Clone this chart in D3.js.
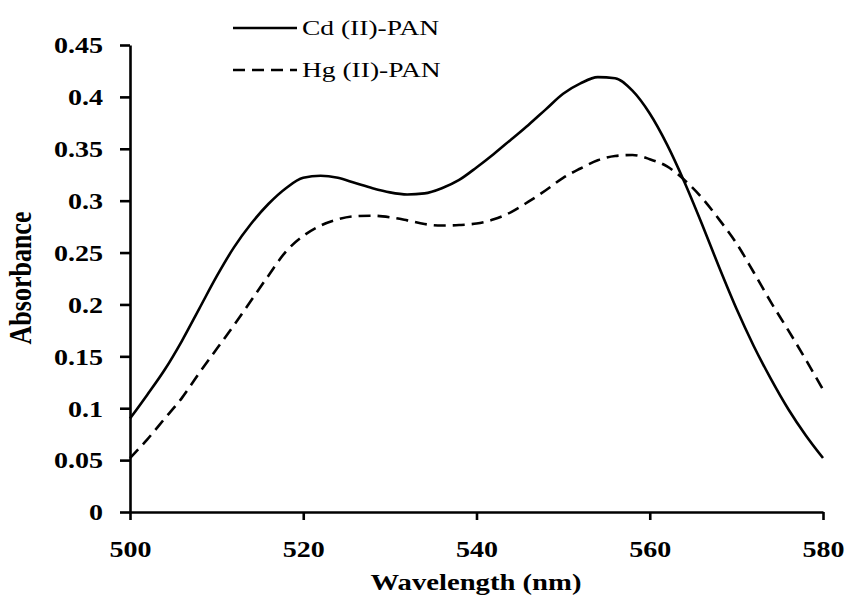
<!DOCTYPE html>
<html>
<head>
<meta charset="utf-8">
<script src="https://cdn.jsdelivr.net/npm/d3@7"></script>
<style>
  body { margin: 0; background: #fff; }
  svg { display: block; }
  text { font-family: "Liberation Serif", "Times New Roman", serif; fill: #000; }
</style>
</head>
<body>
<svg width="850" height="595"></svg>
<script>
// wavelength (nm), every 2 nm
var wavelength = d3.range(500, 581, 2);

var cdPan = [0.090, 0.113, 0.137, 0.165, 0.196, 0.227, 0.255, 0.278, 0.297, 0.312,
             0.322, 0.324, 0.322, 0.317, 0.312, 0.308, 0.306, 0.307, 0.312, 0.320,
             0.332, 0.345, 0.359, 0.373, 0.388, 0.403, 0.413, 0.419, 0.418, 0.406,
             0.384, 0.354, 0.318, 0.278, 0.236, 0.196, 0.160, 0.128, 0.099, 0.074,
             0.052];

var hgPan = [0.052, 0.070, 0.090, 0.110, 0.134, 0.157, 0.180, 0.204, 0.228, 0.251,
             0.266, 0.276, 0.282, 0.285, 0.2855, 0.284, 0.281, 0.2775, 0.276, 0.2765,
             0.278, 0.282, 0.289, 0.299, 0.310, 0.322, 0.331, 0.339, 0.343, 0.344,
             0.340, 0.333, 0.320, 0.303, 0.282, 0.259, 0.231, 0.202, 0.175, 0.147,
             0.118];

var xTicks = [500, 520, 540, 560, 580];
var yTicks = [0, 0.05, 0.1, 0.15, 0.2, 0.25, 0.3, 0.35, 0.4, 0.45];

var series = [
  {name: "Cd (II)-PAN", values: cdPan, dash: null},
  {name: "Hg (II)-PAN", values: hgPan, dash: "12,7"}
];

var svg = d3.select("svg");
var stretch = 1.22; // the original figure is widened horizontally

var x = d3.scaleLinear().domain([500, 580]).range([130, 823]);
var y = d3.scaleLinear().domain([0, 0.45]).range([512, 45]);

// curves
var line = d3.line()
    .x(function(d) { return x(d[0]); })
    .y(function(d) { return y(d[1]); })
    .curve(d3.curveMonotoneX);

svg.append("g")
  .selectAll("path")
  .data(series)
  .enter().append("path")
    .attr("d", function(s) { return line(wavelength.map(function(w, i) { return [w, s.values[i]]; })); })
    .attr("fill", "none")
    .attr("stroke", "#000")
    .attr("stroke-width", 2.6)
    .attr("stroke-dasharray", function(s) { return s.dash; });

// axes
var yAxis = svg.append("g")
    .attr("transform", "translate(" + x(500) + ",0)")
    .call(d3.axisLeft(y).tickValues(yTicks).tickSize(10).tickSizeOuter(0)
      .tickFormat(function(d) { return d3.format("")(+d.toFixed(2)); }));

var xAxis = svg.append("g")
    .attr("transform", "translate(0," + y(0) + ")")
    .call(d3.axisBottom(x).tickValues(xTicks).tickSize(8).tickSizeOuter(0).tickFormat(d3.format("d")));

[yAxis, xAxis].forEach(function(ax) {
  ax.select(".domain").attr("stroke-width", 2.6);
  ax.selectAll(".tick line").attr("stroke-width", 2.6);
  ax.selectAll(".tick text")
      .attr("font-family", "Liberation Serif, Times New Roman, serif")
      .attr("font-size", 23)
      .attr("font-weight", "bold")
      .attr("fill", "#000");
});

yAxis.selectAll(".tick text")
    .attr("x", -27 / stretch)
    .attr("dy", "0.34em")
    .attr("transform", "scale(" + stretch + ",1)");

xAxis.selectAll(".tick text")
    .attr("y", 45)
    .attr("dy", 0)
    .attr("transform", "scale(" + stretch + ",1)");

// axis titles
svg.append("text")
    .attr("transform", "translate(476,590) scale(" + stretch + ",1)")
    .attr("text-anchor", "middle")
    .attr("font-size", 23.5)
    .attr("font-weight", "bold")
    .text("Wavelength (nm)");

svg.append("text")
    .attr("transform", "translate(31,278) scale(" + stretch + ",1) rotate(-90)")
    .attr("text-anchor", "middle")
    .attr("font-size", 26)
    .attr("font-weight", "bold")
    .text("Absorbance");

// legend
var legend = svg.append("g")
  .selectAll("g")
  .data(series)
  .enter().append("g")
    .attr("transform", function(d, i) { return "translate(233," + (28 + i * 42) + ")"; });

legend.append("line")
    .attr("x1", 0).attr("x2", 64)
    .attr("stroke", "#000")
    .attr("stroke-width", 2.6)
    .attr("stroke-dasharray", function(d) { return d.dash; });

legend.append("text")
    .attr("transform", "translate(69,7) scale(1.25,1)")
    .attr("font-size", 22)
    .text(function(d) { return d.name; });
</script>
</body>
</html>
